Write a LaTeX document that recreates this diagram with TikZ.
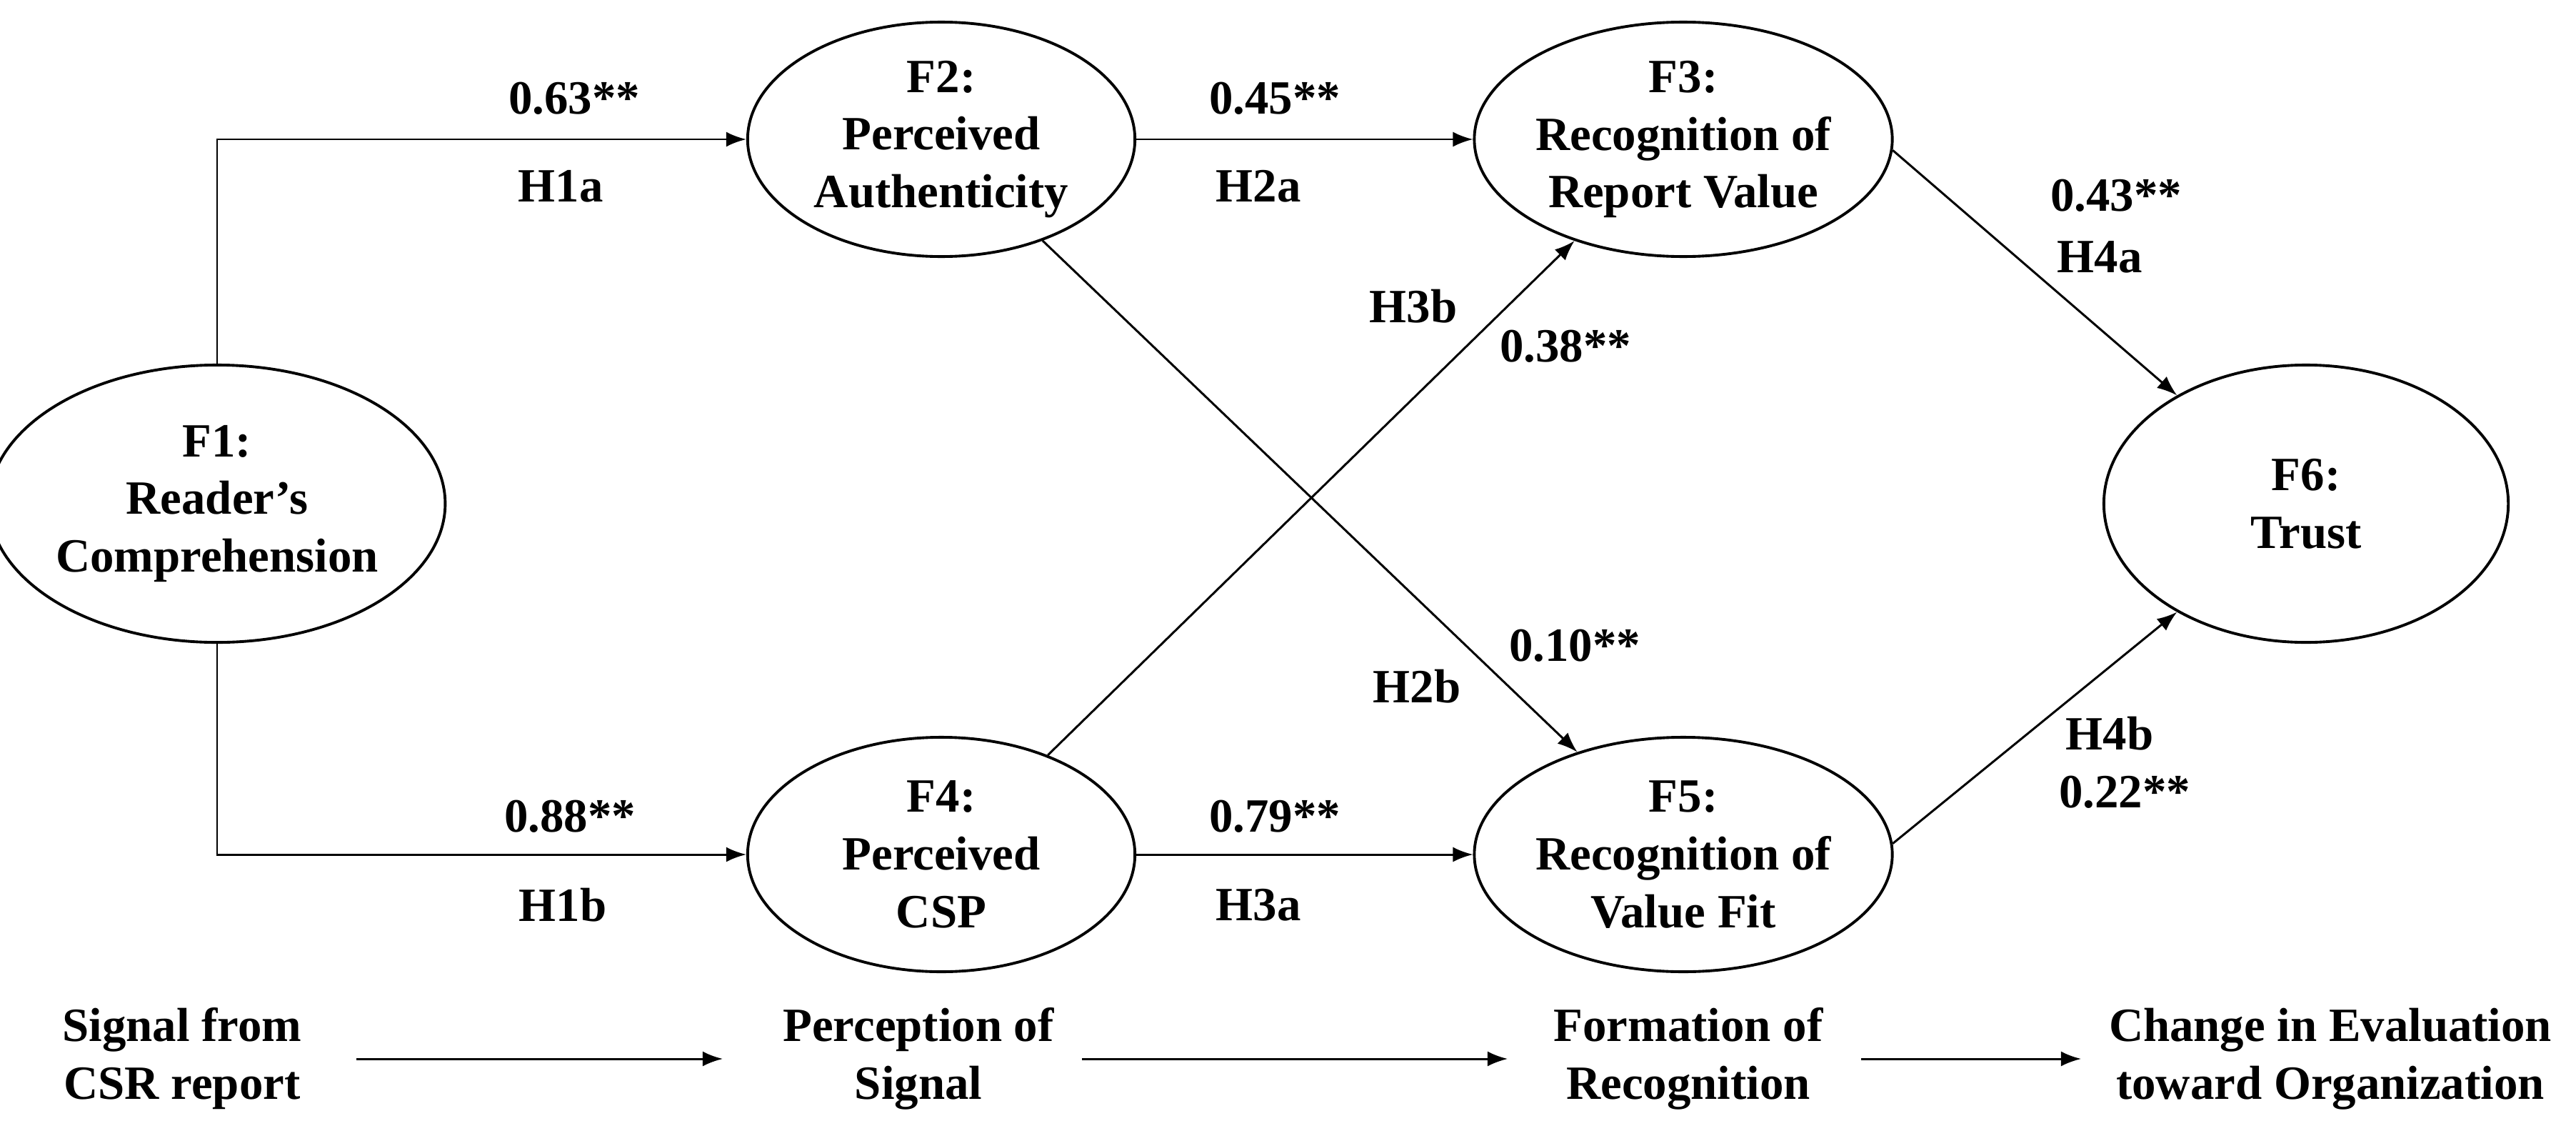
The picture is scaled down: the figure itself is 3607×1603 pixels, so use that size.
\documentclass[tikz,border=0pt]{standalone}
\usepackage{fontspec}
\setmainfont{Liberation Serif}
\usetikzlibrary{shapes.geometric,arrows.meta}
\begin{document}
\begin{tikzpicture}[x=0.01cm,y=-0.01cm,
  fac/.style={ellipse,draw,line width=1.1pt,inner sep=0pt,align=center,font=\fontsize{19}{23}\selectfont\bfseries},
  lab/.style={font=\fontsize{19}{23}\selectfont\bfseries,align=center,inner sep=0pt},
  arr/.style={line width=0.85pt,-{Latex[length=8pt,width=6pt]}},
  ln/.style={line width=0.85pt}]
\useasboundingbox (0,0) rectangle (3607,1603);
\node[fac,minimum width=5.62cm,minimum height=3.88cm] (F1) at (304,705) {F1:\\Reader's\\Comprehension};
\node[fac,minimum width=5.42cm,minimum height=3.28cm] (F2) at (1318,195) {F2:\\Perceived\\Authenticity};
\node[fac,minimum width=5.42cm,minimum height=3.28cm] (F4) at (1318,1196) {F4:\\Perceived\\CSP};
\node[fac,minimum width=5.42cm,minimum height=3.28cm] (F3) at (2357,195) {F3:\\Recognition of\\Report Value};
\node[fac,minimum width=5.42cm,minimum height=3.28cm] (F5) at (2357,1196) {F5:\\Recognition of\\Value Fit};
\node[fac,minimum width=5.66cm,minimum height=3.88cm] (F6) at (3229,705) {F6:\\Trust};

\draw[arr] (F1.north) |- (F2.west);
\draw[arr] (F1.south) |- (F4.west);
\draw[arr] (F2.east) -- (F3.west);
\draw[arr] (F4.east) -- (F5.west);
\draw[arr] (F2.-45) -- (F5.136);
\draw[arr] (F4.43) -- (F3.223);
\draw[arr] (F3.-3) -- (F6.140);
\draw[arr] (F5.3) -- (F6.220);

\node[lab] (l1) at (804,138) {0.63**};
\node[lab] (l2) at (785,261) {H1a};
\node[lab] (l3) at (798,1143) {0.88**};
\node[lab] (l4) at (788,1267) {H1b};
\node[lab] (l5) at (1785,138) {0.45**};
\node[lab] (l6) at (1762,261) {H2a};
\node[lab] (l7) at (1785,1143) {0.79**};
\node[lab] (l8) at (1762,1267) {H3a};
\node[lab] (l9) at (1979,429) {H3b};
\node[lab] (l10) at (2192,485) {0.38**};
\node[lab] (l11) at (2205,904) {0.10**};
\node[lab] (l12) at (1984,961) {H2b};
\node[lab] (l13) at (2963,274) {0.43**};
\node[lab] (l14) at (2940,360) {H4a};
\node[lab] (l15) at (2954,1027) {H4b};
\node[lab] (l16) at (2975,1109) {0.22**};

\node[lab] (b1) at (255,1482) {Signal from\\CSR report};
\node[lab] (b2) at (1286,1482) {Perception of\\Signal};
\node[lab] (b3) at (2364,1482) {Formation of\\Recognition};
\node[lab] (b4) at (3263,1482) {Change in Evaluation\\toward Organization};
\coordinate (a1s) at (499,1482); \coordinate (a1e) at (1012,1482);
\coordinate (a2s) at (1515,1482); \coordinate (a2e) at (2111,1482);
\coordinate (a3s) at (2606,1482); \coordinate (a3e) at (2914,1482);
\draw[arr] (a1s) -- (a1e);
\draw[arr] (a2s) -- (a2e);
\draw[arr] (a3s) -- (a3e);
\end{tikzpicture}
\end{document}
